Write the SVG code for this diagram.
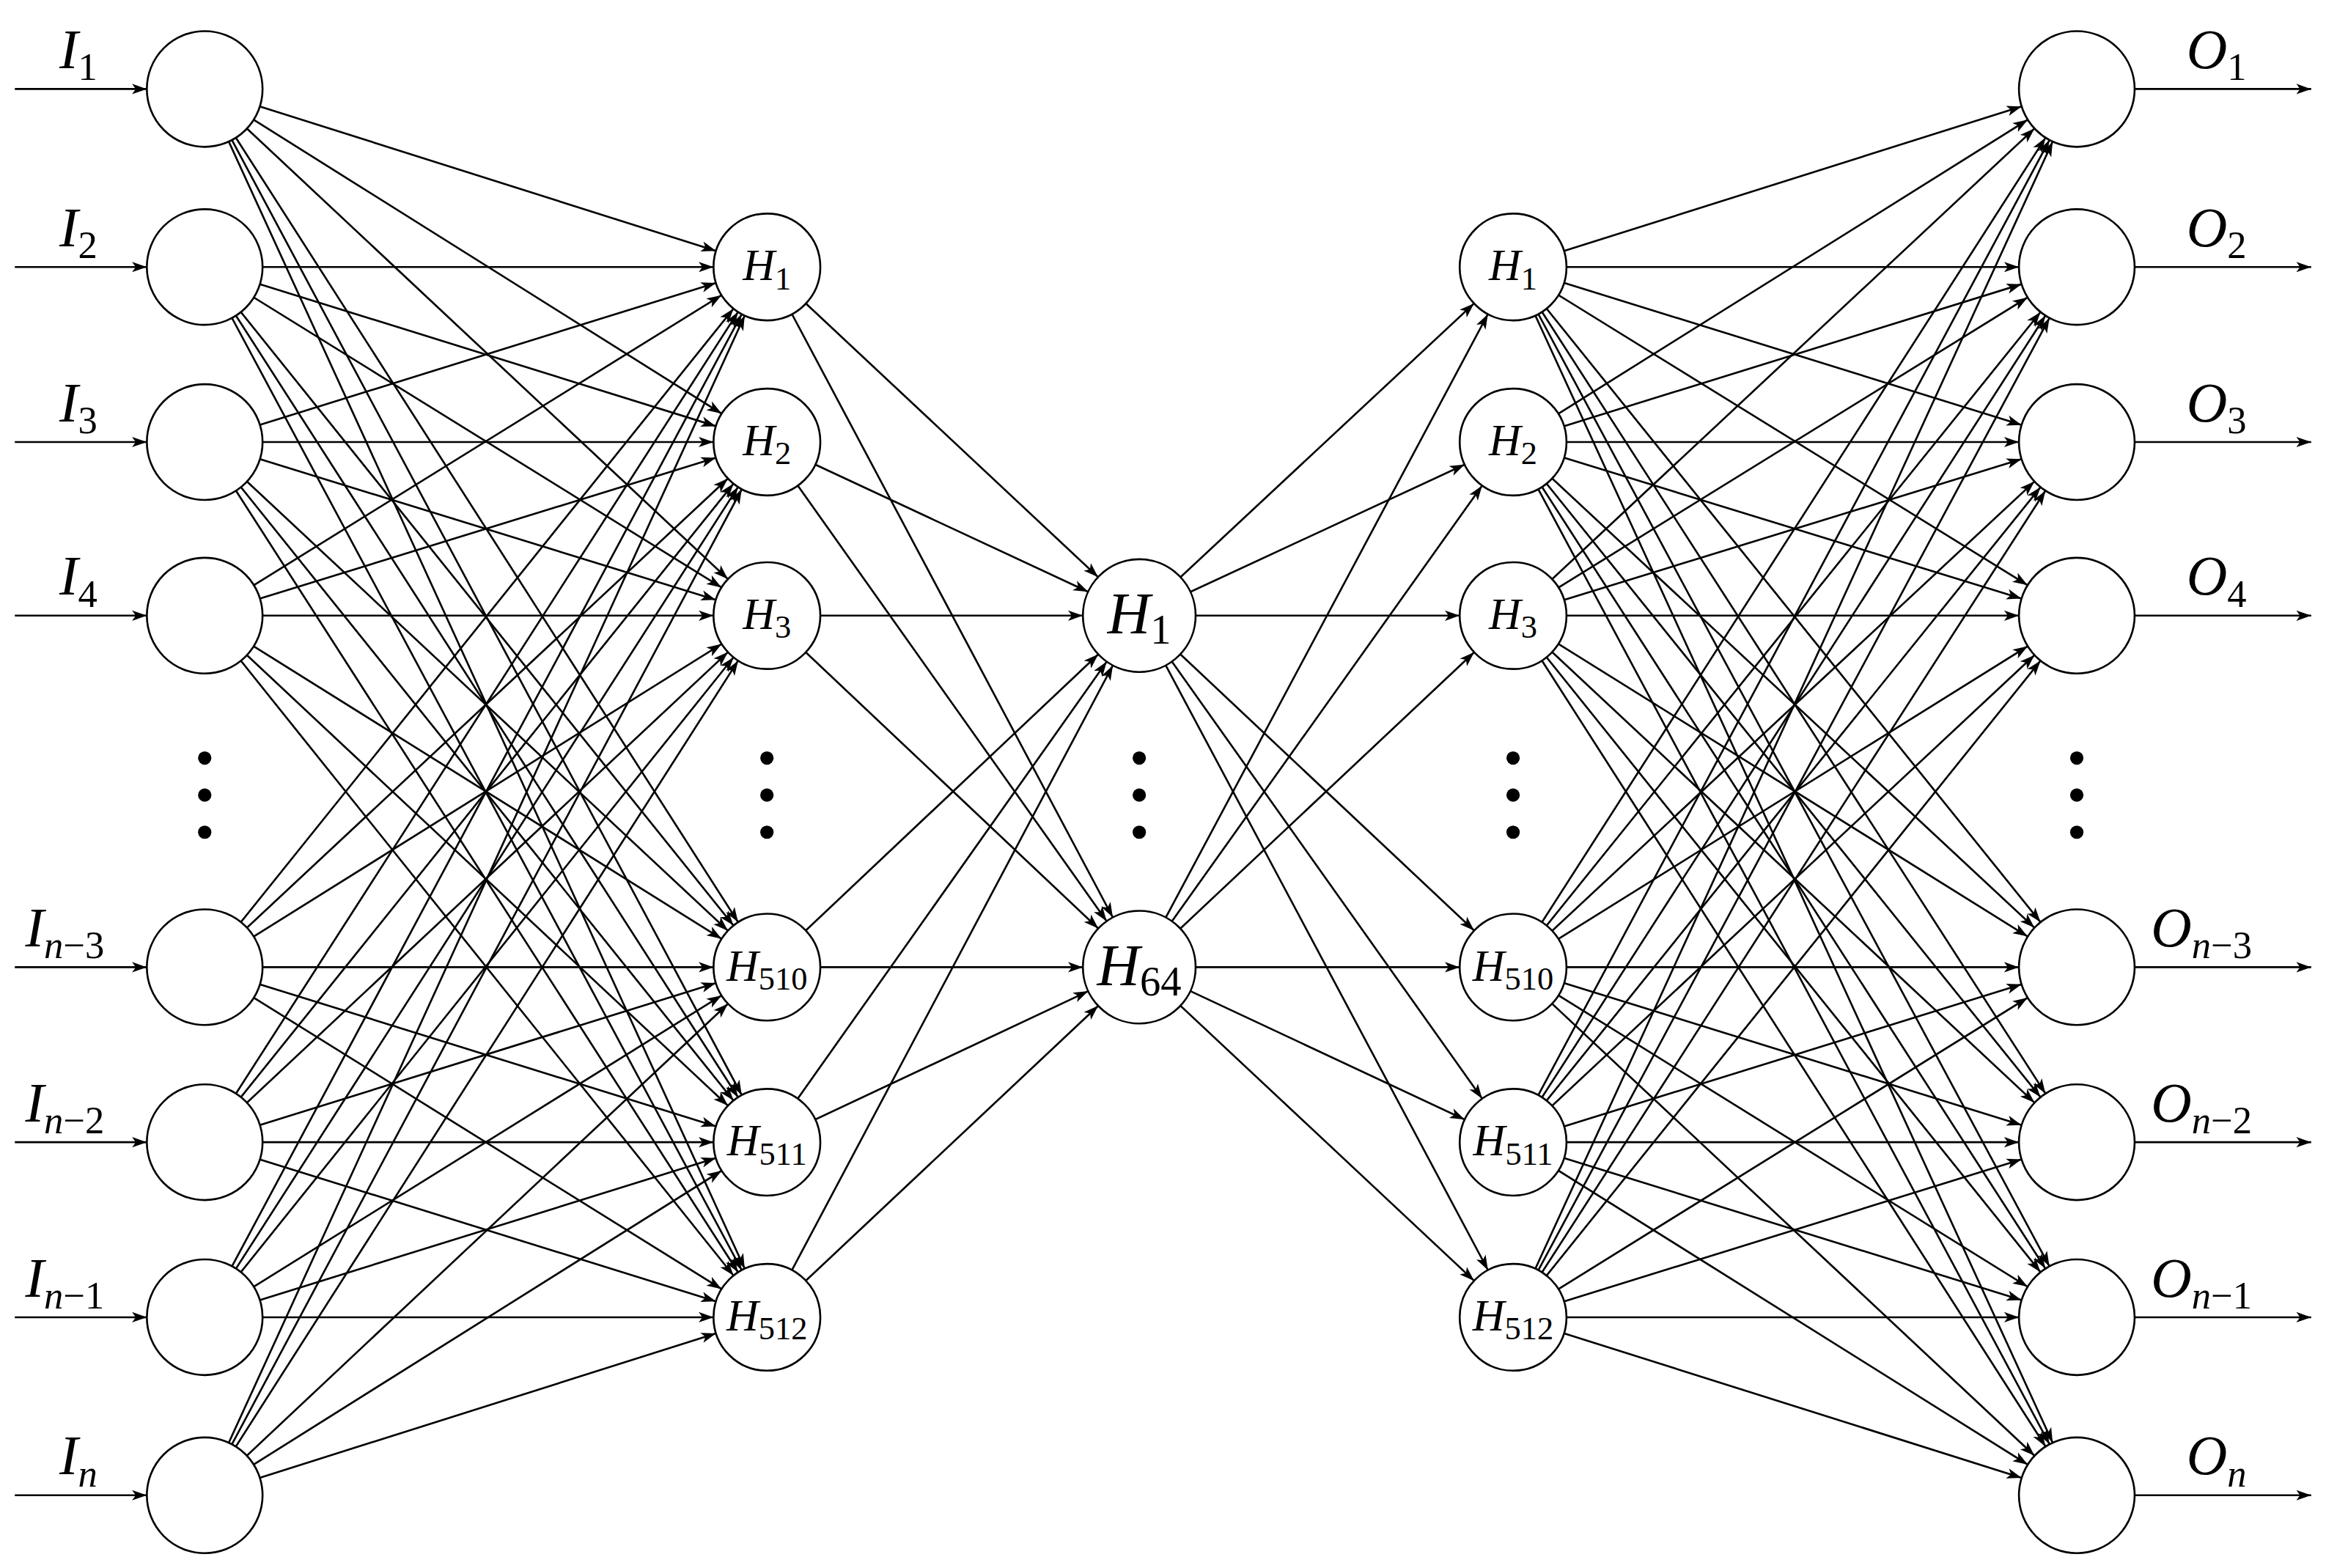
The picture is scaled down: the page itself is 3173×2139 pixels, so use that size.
<svg xmlns="http://www.w3.org/2000/svg" width="3173" height="2139" viewBox="0 0 3173 2139">
<style>
line{stroke:#000;stroke-width:1.3}
.a{marker-end:url(#ah)}.m{marker-end:url(#am)}.o{marker-end:url(#ao)}.p{marker-end:url(#ap)}
circle{fill:#fff;stroke:#000;stroke-width:1.3}
text{font-family:"Liberation Serif",serif;font-style:italic;fill:#000}
.sub{font-style:normal}
</style>
<defs>
<marker id="ah" markerUnits="userSpaceOnUse" orient="auto" overflow="visible" refX="46" refY="0"><path d="M0,-3.5 L10,0 L0,3.5 L2.5,0z"/></marker>
<marker id="am" markerUnits="userSpaceOnUse" orient="auto" overflow="visible" refX="48" refY="0"><path d="M0,-3.5 L10,0 L0,3.5 L2.5,0z"/></marker>
<marker id="ao" markerUnits="userSpaceOnUse" orient="auto" overflow="visible" refX="49" refY="0"><path d="M0,-3.5 L10,0 L0,3.5 L2.5,0z"/></marker>
<marker id="ap" markerUnits="userSpaceOnUse" orient="auto" overflow="visible" refX="10" refY="0"><path d="M0,-3.5 L10,0 L0,3.5 L2.5,0z"/></marker>
</defs>
<rect width="3173" height="2139" fill="#fff"/>
<g transform="scale(2.0236)">
<g id="connectors">
<line class="p" x1="10" y1="60" x2="99" y2="60"/><line class="p" x1="10" y1="180" x2="99" y2="180"/><line class="p" x1="10" y1="298" x2="99" y2="298"/><line class="p" x1="10" y1="415" x2="99" y2="415"/><line class="p" x1="10" y1="652" x2="99" y2="652"/><line class="p" x1="10" y1="770" x2="99" y2="770"/><line class="p" x1="10" y1="888" x2="99" y2="888"/><line class="p" x1="10" y1="1008" x2="99" y2="1008"/>
<line class="p" x1="1439" y1="60" x2="1558" y2="60"/><line class="p" x1="1439" y1="180" x2="1558" y2="180"/><line class="p" x1="1439" y1="298" x2="1558" y2="298"/><line class="p" x1="1439" y1="415" x2="1558" y2="415"/><line class="p" x1="1439" y1="652" x2="1558" y2="652"/><line class="p" x1="1439" y1="770" x2="1558" y2="770"/><line class="p" x1="1439" y1="888" x2="1558" y2="888"/><line class="p" x1="1439" y1="1008" x2="1558" y2="1008"/>
<line class="a" x1="138" y1="60" x2="517" y2="180"/><line class="a" x1="138" y1="60" x2="517" y2="298"/><line class="a" x1="138" y1="60" x2="517" y2="415"/><line class="a" x1="138" y1="60" x2="517" y2="652"/><line class="a" x1="138" y1="60" x2="517" y2="770"/><line class="a" x1="138" y1="60" x2="517" y2="888"/>
<line class="a" x1="138" y1="180" x2="517" y2="180"/><line class="a" x1="138" y1="180" x2="517" y2="298"/><line class="a" x1="138" y1="180" x2="517" y2="415"/><line class="a" x1="138" y1="180" x2="517" y2="652"/><line class="a" x1="138" y1="180" x2="517" y2="770"/><line class="a" x1="138" y1="180" x2="517" y2="888"/>
<line class="a" x1="138" y1="298" x2="517" y2="180"/><line class="a" x1="138" y1="298" x2="517" y2="298"/><line class="a" x1="138" y1="298" x2="517" y2="415"/><line class="a" x1="138" y1="298" x2="517" y2="652"/><line class="a" x1="138" y1="298" x2="517" y2="770"/><line class="a" x1="138" y1="298" x2="517" y2="888"/>
<line class="a" x1="138" y1="415" x2="517" y2="180"/><line class="a" x1="138" y1="415" x2="517" y2="298"/><line class="a" x1="138" y1="415" x2="517" y2="415"/><line class="a" x1="138" y1="415" x2="517" y2="652"/><line class="a" x1="138" y1="415" x2="517" y2="770"/><line class="a" x1="138" y1="415" x2="517" y2="888"/>
<line class="a" x1="138" y1="652" x2="517" y2="180"/><line class="a" x1="138" y1="652" x2="517" y2="298"/><line class="a" x1="138" y1="652" x2="517" y2="415"/><line class="a" x1="138" y1="652" x2="517" y2="652"/><line class="a" x1="138" y1="652" x2="517" y2="770"/><line class="a" x1="138" y1="652" x2="517" y2="888"/>
<line class="a" x1="138" y1="770" x2="517" y2="180"/><line class="a" x1="138" y1="770" x2="517" y2="298"/><line class="a" x1="138" y1="770" x2="517" y2="415"/><line class="a" x1="138" y1="770" x2="517" y2="652"/><line class="a" x1="138" y1="770" x2="517" y2="770"/><line class="a" x1="138" y1="770" x2="517" y2="888"/>
<line class="a" x1="138" y1="888" x2="517" y2="180"/><line class="a" x1="138" y1="888" x2="517" y2="298"/><line class="a" x1="138" y1="888" x2="517" y2="415"/><line class="a" x1="138" y1="888" x2="517" y2="652"/><line class="a" x1="138" y1="888" x2="517" y2="770"/><line class="a" x1="138" y1="888" x2="517" y2="888"/>
<line class="a" x1="138" y1="1008" x2="517" y2="180"/><line class="a" x1="138" y1="1008" x2="517" y2="298"/><line class="a" x1="138" y1="1008" x2="517" y2="415"/><line class="a" x1="138" y1="1008" x2="517" y2="652"/><line class="a" x1="138" y1="1008" x2="517" y2="770"/><line class="a" x1="138" y1="1008" x2="517" y2="888"/>
<line class="m" x1="517" y1="180" x2="768" y2="415"/><line class="m" x1="517" y1="180" x2="768" y2="652"/><line class="m" x1="517" y1="298" x2="768" y2="415"/><line class="m" x1="517" y1="298" x2="768" y2="652"/><line class="m" x1="517" y1="415" x2="768" y2="415"/><line class="m" x1="517" y1="415" x2="768" y2="652"/><line class="m" x1="517" y1="652" x2="768" y2="415"/><line class="m" x1="517" y1="652" x2="768" y2="652"/><line class="m" x1="517" y1="770" x2="768" y2="415"/><line class="m" x1="517" y1="770" x2="768" y2="652"/><line class="m" x1="517" y1="888" x2="768" y2="415"/><line class="m" x1="517" y1="888" x2="768" y2="652"/>
<line class="a" x1="768" y1="415" x2="1020" y2="180"/><line class="a" x1="768" y1="415" x2="1020" y2="298"/><line class="a" x1="768" y1="415" x2="1020" y2="415"/><line class="a" x1="768" y1="415" x2="1020" y2="652"/><line class="a" x1="768" y1="415" x2="1020" y2="770"/><line class="a" x1="768" y1="415" x2="1020" y2="888"/>
<line class="a" x1="768" y1="652" x2="1020" y2="180"/><line class="a" x1="768" y1="652" x2="1020" y2="298"/><line class="a" x1="768" y1="652" x2="1020" y2="415"/><line class="a" x1="768" y1="652" x2="1020" y2="652"/><line class="a" x1="768" y1="652" x2="1020" y2="770"/><line class="a" x1="768" y1="652" x2="1020" y2="888"/>
<line class="o" x1="1020" y1="180" x2="1400" y2="60"/><line class="o" x1="1020" y1="180" x2="1400" y2="180"/><line class="o" x1="1020" y1="180" x2="1400" y2="298"/><line class="o" x1="1020" y1="180" x2="1400" y2="415"/><line class="o" x1="1020" y1="180" x2="1400" y2="652"/><line class="o" x1="1020" y1="180" x2="1400" y2="770"/><line class="o" x1="1020" y1="180" x2="1400" y2="888"/><line class="o" x1="1020" y1="180" x2="1400" y2="1008"/>
<line class="o" x1="1020" y1="298" x2="1400" y2="60"/><line class="o" x1="1020" y1="298" x2="1400" y2="180"/><line class="o" x1="1020" y1="298" x2="1400" y2="298"/><line class="o" x1="1020" y1="298" x2="1400" y2="415"/><line class="o" x1="1020" y1="298" x2="1400" y2="652"/><line class="o" x1="1020" y1="298" x2="1400" y2="770"/><line class="o" x1="1020" y1="298" x2="1400" y2="888"/><line class="o" x1="1020" y1="298" x2="1400" y2="1008"/>
<line class="o" x1="1020" y1="415" x2="1400" y2="60"/><line class="o" x1="1020" y1="415" x2="1400" y2="180"/><line class="o" x1="1020" y1="415" x2="1400" y2="298"/><line class="o" x1="1020" y1="415" x2="1400" y2="415"/><line class="o" x1="1020" y1="415" x2="1400" y2="652"/><line class="o" x1="1020" y1="415" x2="1400" y2="770"/><line class="o" x1="1020" y1="415" x2="1400" y2="888"/><line class="o" x1="1020" y1="415" x2="1400" y2="1008"/>
<line class="o" x1="1020" y1="652" x2="1400" y2="60"/><line class="o" x1="1020" y1="652" x2="1400" y2="180"/><line class="o" x1="1020" y1="652" x2="1400" y2="298"/><line class="o" x1="1020" y1="652" x2="1400" y2="415"/><line class="o" x1="1020" y1="652" x2="1400" y2="652"/><line class="o" x1="1020" y1="652" x2="1400" y2="770"/><line class="o" x1="1020" y1="652" x2="1400" y2="888"/><line class="o" x1="1020" y1="652" x2="1400" y2="1008"/>
<line class="o" x1="1020" y1="770" x2="1400" y2="60"/><line class="o" x1="1020" y1="770" x2="1400" y2="180"/><line class="o" x1="1020" y1="770" x2="1400" y2="298"/><line class="o" x1="1020" y1="770" x2="1400" y2="415"/><line class="o" x1="1020" y1="770" x2="1400" y2="652"/><line class="o" x1="1020" y1="770" x2="1400" y2="770"/><line class="o" x1="1020" y1="770" x2="1400" y2="888"/><line class="o" x1="1020" y1="770" x2="1400" y2="1008"/>
<line class="o" x1="1020" y1="888" x2="1400" y2="60"/><line class="o" x1="1020" y1="888" x2="1400" y2="180"/><line class="o" x1="1020" y1="888" x2="1400" y2="298"/><line class="o" x1="1020" y1="888" x2="1400" y2="415"/><line class="o" x1="1020" y1="888" x2="1400" y2="652"/><line class="o" x1="1020" y1="888" x2="1400" y2="770"/><line class="o" x1="1020" y1="888" x2="1400" y2="888"/><line class="o" x1="1020" y1="888" x2="1400" y2="1008"/>
</g>
<g id="inputs">
<circle cx="138" cy="60" r="39"/><circle cx="138" cy="180" r="39"/><circle cx="138" cy="298" r="39"/><circle cx="138" cy="415" r="39"/><circle cx="138" cy="652" r="39"/><circle cx="138" cy="770" r="39"/><circle cx="138" cy="888" r="39"/><circle cx="138" cy="1008" r="39"/>
<text x="40" y="46" font-size="38">I<tspan class="sub" font-size="26" dy="8">1</tspan></text>
<text x="40" y="166" font-size="38">I<tspan class="sub" font-size="26" dy="8">2</tspan></text>
<text x="40" y="284" font-size="38">I<tspan class="sub" font-size="26" dy="8">3</tspan></text>
<text x="40" y="401" font-size="38">I<tspan class="sub" font-size="26" dy="8">4</tspan></text>
<text x="17" y="638" font-size="38">I<tspan font-size="26" dy="8">n</tspan><tspan class="sub" font-size="26">−3</tspan></text>
<text x="17" y="756" font-size="38">I<tspan font-size="26" dy="8">n</tspan><tspan class="sub" font-size="26">−2</tspan></text>
<text x="17" y="874" font-size="38">I<tspan font-size="26" dy="8">n</tspan><tspan class="sub" font-size="26">−1</tspan></text>
<text x="40" y="994" font-size="38">I<tspan font-size="26" dy="8">n</tspan></text>
</g>
<g id="hidden1">
<circle cx="517" cy="180" r="36"/><circle cx="517" cy="298" r="36"/><circle cx="517" cy="415" r="36"/><circle cx="517" cy="652" r="36"/><circle cx="517" cy="770" r="36"/><circle cx="517" cy="888" r="36"/>
<text x="517" y="189" font-size="30" text-anchor="middle">H<tspan class="sub" font-size="22" dy="6">1</tspan></text>
<text x="517" y="307" font-size="30" text-anchor="middle">H<tspan class="sub" font-size="22" dy="6">2</tspan></text>
<text x="517" y="424" font-size="30" text-anchor="middle">H<tspan class="sub" font-size="22" dy="6">3</tspan></text>
<text x="517" y="661" font-size="30" text-anchor="middle">H<tspan class="sub" font-size="22" dy="6">510</tspan></text>
<text x="517" y="779" font-size="30" text-anchor="middle">H<tspan class="sub" font-size="22" dy="6">511</tspan></text>
<text x="517" y="897" font-size="30" text-anchor="middle">H<tspan class="sub" font-size="22" dy="6">512</tspan></text>
</g>
<g id="middle">
<circle cx="768" cy="415" r="38"/><circle cx="768" cy="652" r="38"/>
<text x="768" y="427" font-size="40" text-anchor="middle">H<tspan class="sub" font-size="28" dy="7">1</tspan></text>
<text x="768" y="664" font-size="40" text-anchor="middle">H<tspan class="sub" font-size="28" dy="7">64</tspan></text>
</g>
<g id="hidden2">
<circle cx="1020" cy="180" r="36"/><circle cx="1020" cy="298" r="36"/><circle cx="1020" cy="415" r="36"/><circle cx="1020" cy="652" r="36"/><circle cx="1020" cy="770" r="36"/><circle cx="1020" cy="888" r="36"/>
<text x="1020" y="189" font-size="30" text-anchor="middle">H<tspan class="sub" font-size="22" dy="6">1</tspan></text>
<text x="1020" y="307" font-size="30" text-anchor="middle">H<tspan class="sub" font-size="22" dy="6">2</tspan></text>
<text x="1020" y="424" font-size="30" text-anchor="middle">H<tspan class="sub" font-size="22" dy="6">3</tspan></text>
<text x="1020" y="661" font-size="30" text-anchor="middle">H<tspan class="sub" font-size="22" dy="6">510</tspan></text>
<text x="1020" y="779" font-size="30" text-anchor="middle">H<tspan class="sub" font-size="22" dy="6">511</tspan></text>
<text x="1020" y="897" font-size="30" text-anchor="middle">H<tspan class="sub" font-size="22" dy="6">512</tspan></text>
</g>
<g id="outputs">
<circle cx="1400" cy="60" r="39"/><circle cx="1400" cy="180" r="39"/><circle cx="1400" cy="298" r="39"/><circle cx="1400" cy="415" r="39"/><circle cx="1400" cy="652" r="39"/><circle cx="1400" cy="770" r="39"/><circle cx="1400" cy="888" r="39"/><circle cx="1400" cy="1008" r="39"/>
<text x="1474" y="46" font-size="38">O<tspan class="sub" font-size="26" dy="8">1</tspan></text>
<text x="1474" y="166" font-size="38">O<tspan class="sub" font-size="26" dy="8">2</tspan></text>
<text x="1474" y="284" font-size="38">O<tspan class="sub" font-size="26" dy="8">3</tspan></text>
<text x="1474" y="401" font-size="38">O<tspan class="sub" font-size="26" dy="8">4</tspan></text>
<text x="1450" y="638" font-size="38">O<tspan font-size="26" dy="8">n</tspan><tspan class="sub" font-size="26">−3</tspan></text>
<text x="1450" y="756" font-size="38">O<tspan font-size="26" dy="8">n</tspan><tspan class="sub" font-size="26">−2</tspan></text>
<text x="1450" y="874" font-size="38">O<tspan font-size="26" dy="8">n</tspan><tspan class="sub" font-size="26">−1</tspan></text>
<text x="1474" y="994" font-size="38">O<tspan font-size="26" dy="8">n</tspan></text>
</g>
<g id="ellipses" fill="#000">
<circle cx="138" cy="511" r="4.5" style="fill:#000;stroke:none"/><circle cx="138" cy="536" r="4.5" style="fill:#000;stroke:none"/><circle cx="138" cy="561" r="4.5" style="fill:#000;stroke:none"/>
<circle cx="517" cy="511" r="4.5" style="fill:#000;stroke:none"/><circle cx="517" cy="536" r="4.5" style="fill:#000;stroke:none"/><circle cx="517" cy="561" r="4.5" style="fill:#000;stroke:none"/>
<circle cx="768" cy="511" r="4.5" style="fill:#000;stroke:none"/><circle cx="768" cy="536" r="4.5" style="fill:#000;stroke:none"/><circle cx="768" cy="561" r="4.5" style="fill:#000;stroke:none"/>
<circle cx="1020" cy="511" r="4.5" style="fill:#000;stroke:none"/><circle cx="1020" cy="536" r="4.5" style="fill:#000;stroke:none"/><circle cx="1020" cy="561" r="4.5" style="fill:#000;stroke:none"/>
<circle cx="1400" cy="511" r="4.5" style="fill:#000;stroke:none"/><circle cx="1400" cy="536" r="4.5" style="fill:#000;stroke:none"/><circle cx="1400" cy="561" r="4.5" style="fill:#000;stroke:none"/>
</g>
</g>
</svg>
